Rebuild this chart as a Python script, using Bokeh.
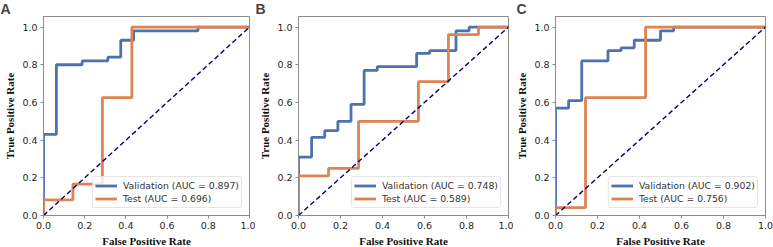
from bokeh.plotting import figure
from bokeh.layouts import row
from bokeh.models import Range1d, FixedTicker, Legend, LegendItem
from bokeh.embed import file_html
from bokeh.resources import INLINE

# ---- data ----
panel_letters = ["A", "B", "C"]

a_val_fpr = [0, 0, 0.0625, 0.0625, 0.1875, 0.1875, 0.3125, 0.3125, 0.375, 0.375, 0.4375, 0.4375, 0.75, 0.75, 1.0]
a_val_tpr = [0, 0.43, 0.43, 0.80, 0.80, 0.82, 0.82, 0.84, 0.84, 0.93, 0.93, 0.98, 0.98, 1.0, 1.0]
a_test_fpr = [0, 0, 0.143, 0.143, 0.286, 0.286, 0.429, 0.429, 1.0]
a_test_tpr = [0, 0.083, 0.083, 0.167, 0.167, 0.625, 0.625, 1.0, 1.0]
a_auc = ["0.897", "0.696"]

b_val_fpr = [0, 0, 0.0625, 0.0625, 0.125, 0.125, 0.1875, 0.1875, 0.25, 0.25, 0.3125, 0.3125,
             0.375, 0.375, 0.5625, 0.5625, 0.625, 0.625, 0.75, 0.75, 0.8125, 0.8125, 1.0]
b_val_tpr = [0, 0.31, 0.31, 0.415, 0.415, 0.45, 0.45, 0.50, 0.50, 0.59, 0.59, 0.77,
             0.77, 0.79, 0.79, 0.86, 0.86, 0.875, 0.875, 0.98, 0.98, 1.0, 1.0]
b_test_fpr = [0, 0, 0.143, 0.143, 0.286, 0.286, 0.571, 0.571, 0.714, 0.714, 0.857, 0.857, 1.0]
b_test_tpr = [0, 0.21, 0.21, 0.25, 0.25, 0.50, 0.50, 0.71, 0.71, 0.96, 0.96, 1.0, 1.0]
b_auc = ["0.748", "0.589"]

c_val_fpr = [0, 0, 0.0625, 0.0625, 0.125, 0.125, 0.25, 0.25, 0.3125, 0.3125, 0.375, 0.375, 0.5, 0.5, 0.5625, 0.5625, 1.0]
c_val_tpr = [0, 0.57, 0.57, 0.61, 0.61, 0.82, 0.82, 0.875, 0.875, 0.89, 0.89, 0.93, 0.93, 0.98, 0.98, 1.0, 1.0]
c_test_fpr = [0, 0, 0.143, 0.143, 0.429, 0.429, 1.0]
c_test_tpr = [0, 0.042, 0.042, 0.625, 0.625, 1.0, 1.0]
c_auc = ["0.902", "0.756"]

diag = [0.0, 1.0]
tick_vals = [0.0, 0.2, 0.4, 0.6, 0.8, 1.0]
tick_labels = ["0.0", "0.2", "0.4", "0.6", "0.8", "1.0"]

BLUE = "#4c72b0"
ORANGE = "#dd8452"
GREY = "#8c8c8c"


def panel(letter, vf, vt, tf, tt, auc, left, frame_w, right):
    p = figure(output_backend="svg", toolbar_location=None,
               frame_width=frame_w, frame_height=199,
               min_border_left=left, min_border_right=right,
               min_border_top=16, min_border_bottom=32,
               x_range=Range1d(0, 1.0), y_range=Range1d(0, 1.056),
               x_axis_label="False Positive Rate", y_axis_label="True Positive Rate",
               title=letter)
    p.title.text_font = "Liberation Sans"
    p.title.text_font_style = "bold"
    p.title.text_font_size = "14px"
    p.title.align = "left"
    p.title.offset = -left
    p.title.standoff = -4
    p.title.vertical_align = "top"
    p.grid.visible = False
    p.outline_line_color = GREY
    p.outline_line_width = 1
    for ax in (p.xaxis[0], p.yaxis[0]):
        ax.ticker = FixedTicker(ticks=tick_vals)
        ax.major_label_overrides = {v: s for v, s in zip(tick_vals, tick_labels)}
        ax.axis_line_color = GREY
        ax.major_tick_line_color = GREY
        ax.minor_tick_line_color = None
        ax.major_tick_in = 0
        ax.major_tick_out = 3
        ax.major_label_standoff = 3
        ax.major_label_text_font = "DejaVu Sans"
        ax.major_label_text_font_size = "9.5px"
        ax.major_label_text_color = "#262626"
        ax.axis_label_text_font = "Liberation Serif"
        ax.axis_label_text_font_style = "bold"
        ax.axis_label_text_font_size = "11px"
        ax.axis_label_text_color = "#111111"
        ax.axis_label_standoff = 3

    r1 = p.line(vf, vt, line_color=BLUE, line_width=2.8)
    r2 = p.line(tf, tt, line_color=ORANGE, line_width=2.8)
    p.line(diag, diag, line_color="navy", line_width=1.4, line_dash="5 3")

    leg = Legend(items=[LegendItem(label="Validation (AUC = %s)" % auc[0], renderers=[r1]),
                        LegendItem(label="Test (AUC = %s)" % auc[1], renderers=[r2])],
                 location="bottom_right")
    leg.label_text_font = "DejaVu Sans"
    leg.label_text_font_size = "9.3px"
    leg.label_text_color = "#333333"
    leg.glyph_width = 22
    leg.glyph_height = 13
    leg.label_height = 13
    leg.label_standoff = 6
    leg.spacing = 0
    leg.padding = 2
    leg.margin = 7
    leg.border_line_color = "#cccccc"
    leg.background_fill_alpha = 0.8
    try:
        leg.border_radius = 3
    except Exception:
        pass
    p.add_layout(leg)
    return p


pa = panel(panel_letters[0], a_val_fpr, a_val_tpr, a_test_fpr, a_test_tpr, a_auc, 43, 206, 6)
pb = panel(panel_letters[1], b_val_fpr, b_val_tpr, b_test_fpr, b_test_tpr, b_auc, 43, 210, 5)
pc = panel(panel_letters[2], c_val_fpr, c_val_tpr, c_test_fpr, c_test_tpr, c_auc, 39, 210, 11)

layout = row(pa, pb, pc)
open("out.html", "w").write(file_html(layout, INLINE))
